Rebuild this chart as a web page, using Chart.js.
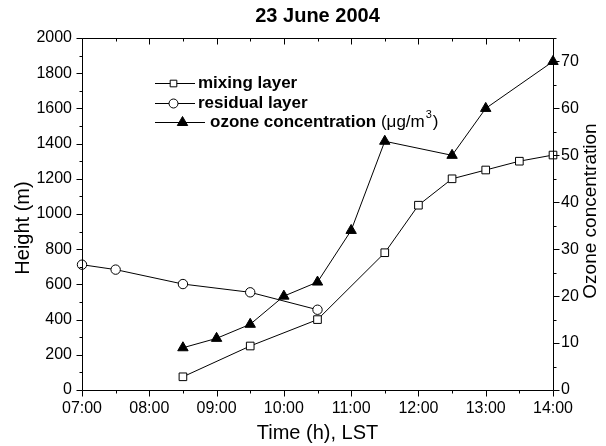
<!DOCTYPE html>
<html>
<head>
<meta charset="utf-8">
<title>23 June 2004</title>
<script src="https://cdn.jsdelivr.net/npm/chart.js@4.4.1/dist/chart.umd.min.js"></script>
<style>
  html, body { margin: 0; padding: 0; background: #fff; }
  #wrap { width: 606px; height: 446px; }
</style>
</head>
<body>
<div id="wrap"><canvas id="ozoneChart" width="606" height="446"></canvas></div>
<script>
// time in hours (LST)
const mixingTimes = [8.5, 9.5, 10.5, 11.5, 12, 12.5, 13, 13.5, 14];
const mixingHeights = [75, 250, 400, 780, 1050, 1200, 1250, 1300, 1335];

const residualTimes = [7, 7.5, 8.5, 9.5, 10.5];
const residualHeights = [712, 684, 602, 555, 456];

const ozoneTimes = [8.5, 9, 9.5, 10, 10.5, 11, 11.5, 12.5, 13, 14];
const ozoneValues = [9, 11, 14, 20, 23, 34, 53, 50, 60, 70];

const chartTitle = '23 June 2004';
const xTitle = 'Time (h), LST';
const yTitle = 'Height (m)';
const y1Title = 'Ozone concentration';
const legendNames = ['mixing layer', 'residual layer', 'ozone concentration'];
const ozoneUnit = ['(\u03bcg/m', '3', ')'];

const FONT = "'Liberation Sans', Arial, Helvetica, sans-serif";

function toPoints(xs, ys) {
    return xs.map((x, i) => ({ x: x, y: ys[i] }));
}

function hourLabel(v) {
    if (!Number.isInteger(v)) return '';
    return String(v).padStart(2, '0') + ':00';
}

function plainNumber(v) {
    return String(v);
}

function marker(ctx, style, radius, x, y, fill) {
    ctx.fillStyle = fill;
    ctx.strokeStyle = '#000';
    ctx.lineWidth = 1;
    if (Chart.helpers && Chart.helpers.drawPoint) {
        Chart.helpers.drawPoint(ctx, { pointStyle: style, radius: radius, rotation: 0, borderWidth: 1 }, x, y);
    }
}

// frame + major/minor ticks like the original plot
const axisFrame = {
    id: 'axisFrame',
    afterDatasetsDraw(chart) {
        const { ctx, chartArea: a, scales } = chart;
        const L = Math.round(a.left) + 0.5, R = Math.round(a.right) + 0.5;
        const T = Math.round(a.top) + 0.5, B = Math.round(a.bottom) + 0.5;
        ctx.save();
        ctx.strokeStyle = '#000';
        ctx.lineWidth = 1;
        ctx.beginPath();
        ctx.rect(L, T, R - L, B - T);

        for (let v = scales.x.min; v <= scales.x.max + 1e-6; v += 0.5) {
            const px = Math.round(scales.x.getPixelForValue(v)) + 0.5;
            const len = Number.isInteger(v) ? 6 : 3;
            ctx.moveTo(px, B); ctx.lineTo(px, B + len);
            ctx.moveTo(px, T); ctx.lineTo(px, T + len);
        }
        for (let v = scales.y.min; v <= scales.y.max + 1e-6; v += 100) {
            const py = Math.round(scales.y.getPixelForValue(v)) + 0.5;
            const len = v % 200 === 0 ? 6 : 3;
            ctx.moveTo(L, py); ctx.lineTo(L - len, py);
        }
        for (let v = scales.y1.min; v <= scales.y1.max + 1e-6; v += 5) {
            const py = Math.round(scales.y1.getPixelForValue(v)) + 0.5;
            const len = v % 10 === 0 ? 6 : 3;
            ctx.moveTo(R, py); ctx.lineTo(R + len, py);
        }
        ctx.stroke();
        ctx.restore();
    },
    afterDraw(chart) {
        const { ctx, chartArea: a } = chart;
        const ds = chart.data.datasets;
        ctx.save();
        ctx.fillStyle = '#000';
        ctx.textBaseline = 'middle';

        // title
        ctx.textAlign = 'center';
        ctx.font = 'bold 20px ' + FONT;
        ctx.fillText(chartTitle, (a.left + a.right) / 2, 16);

        // y titles, both read bottom to top
        ctx.font = '20px ' + FONT;
        ctx.save();
        ctx.translate(23, 228);
        ctx.rotate(-Math.PI / 2);
        ctx.fillText(yTitle, 0, 0);
        ctx.restore();

        ctx.font = '19px ' + FONT;
        ctx.save();
        ctx.translate(591, 211);
        ctx.rotate(-Math.PI / 2);
        ctx.fillText(y1Title, 0, 0);
        ctx.restore();

        // legend
        const rows = [
            { y: 83.5, x0: 155, x1: 195, mx: 173.5, r: 4.7, text: 198 },
            { y: 103.5, x0: 155, x1: 195, mx: 173.5, r: 4.5, text: 198 },
            { y: 122.5, x0: 155, x1: 205, mx: 182.5, r: 6, text: 210 }
        ];
        rows.forEach((row, i) => {
            const d = ds[i];
            ctx.strokeStyle = '#000';
            ctx.lineWidth = 1;
            ctx.beginPath();
            ctx.moveTo(row.x0, row.y);
            ctx.lineTo(row.x1, row.y);
            ctx.stroke();
            marker(ctx, d.pointStyle, row.r, row.mx, row.y, d.pointBackgroundColor);

            ctx.fillStyle = '#000';
            ctx.textAlign = 'left';
            ctx.font = 'bold 17px ' + FONT;
            ctx.fillText(legendNames[i], row.text, row.y);
            if (i === 2) {
                let x = row.text + ctx.measureText(legendNames[i] + ' ').width;
                ctx.font = '17px ' + FONT;
                ctx.fillText(ozoneUnit[0], x, row.y);
                x += ctx.measureText(ozoneUnit[0]).width + 1;
                ctx.font = '11px ' + FONT;
                ctx.fillText(ozoneUnit[1], x, row.y - 8);
                x += ctx.measureText(ozoneUnit[1]).width + 1;
                ctx.font = '17px ' + FONT;
                ctx.fillText(ozoneUnit[2], x, row.y);
            }
        });
        ctx.restore();
    }
};

const ctx = document.getElementById('ozoneChart').getContext('2d');
const ozoneChart = new Chart(ctx, {
    type: 'line',
    data: {
        datasets: [{
            label: legendNames[0],
            data: toPoints(mixingTimes, mixingHeights),
            yAxisID: 'y',
            borderColor: '#000',
            borderWidth: 1,
            pointStyle: 'rect',
            pointRadius: 5.4,
            pointBorderWidth: 1,
            pointBorderColor: '#000',
            pointBackgroundColor: '#fff',
            clip: false
        }, {
            label: legendNames[1],
            data: toPoints(residualTimes, residualHeights),
            yAxisID: 'y',
            borderColor: '#000',
            borderWidth: 1,
            pointStyle: 'circle',
            pointRadius: 4.7,
            pointBorderWidth: 1,
            pointBorderColor: '#000',
            pointBackgroundColor: '#fff',
            clip: false
        }, {
            label: legendNames[2],
            data: toPoints(ozoneTimes, ozoneValues),
            yAxisID: 'y1',
            borderColor: '#000',
            borderWidth: 1,
            pointStyle: 'triangle',
            pointRadius: 6,
            pointBorderWidth: 1,
            pointBorderColor: '#000',
            pointBackgroundColor: '#000',
            clip: false
        }]
    },
    options: {
        responsive: false,
        animation: false,
        devicePixelRatio: 1,
        events: [],
        layout: { padding: { top: 38, left: 0, right: 0, bottom: 0 } },
        plugins: {
            legend: { display: false },
            title: { display: false },
            tooltip: { enabled: false }
        },
        scales: {
            x: {
                type: 'linear',
                min: 7,
                max: 14,
                grid: { display: false, drawTicks: false },
                border: { display: false },
                ticks: {
                    stepSize: 1,
                    padding: 9,
                    maxRotation: 0,
                    autoSkip: false,
                    color: '#000',
                    font: { family: FONT, size: 16 },
                    callback: hourLabel
                },
                title: {
                    display: true,
                    text: xTitle,
                    color: '#000',
                    font: { family: FONT, size: 20 },
                    padding: { top: 0, bottom: 1 }
                },
                afterFit(scale) { scale.height = 56; }
            },
            y: {
                position: 'left',
                min: 0,
                max: 2000,
                grid: { display: false, drawTicks: false },
                border: { display: false },
                ticks: {
                    stepSize: 200,
                    padding: 10,
                    color: '#000',
                    font: { family: FONT, size: 16 },
                    callback: plainNumber
                },
                afterFit(scale) { scale.width = 82; }
            },
            y1: {
                position: 'right',
                min: 0,
                max: 75,
                grid: { display: false, drawTicks: false },
                border: { display: false },
                ticks: {
                    stepSize: 10,
                    includeBounds: false,
                    padding: 8,
                    color: '#000',
                    font: { family: FONT, size: 16 },
                    callback: plainNumber
                },
                afterFit(scale) { scale.width = 53; }
            }
        }
    },
    plugins: [axisFrame]
});
</script>
</body>
</html>
